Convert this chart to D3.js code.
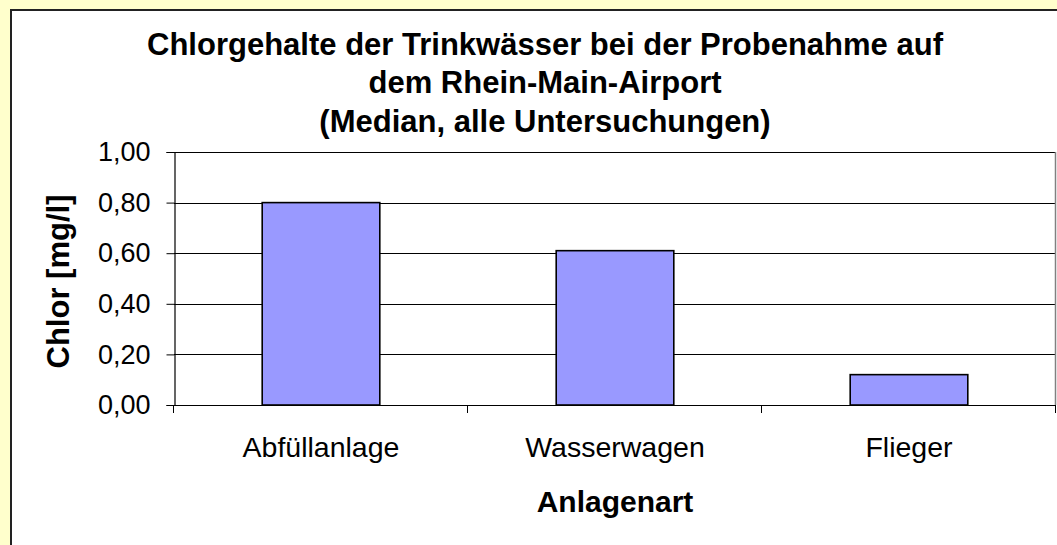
<!DOCTYPE html>
<html><head><meta charset="utf-8">
<script src="https://cdn.jsdelivr.net/npm/d3@7"></script>
<style>html,body{margin:0;padding:0;background:#FFFFCC;}svg{display:block;}</style>
</head><body>
<script>
const categories = ["Abfüllanlage", "Wasserwagen", "Flieger"];
const values = [0.80, 0.61, 0.12];
const yTicks = [0, 0.2, 0.4, 0.6, 0.8, 1.0];
const titleLines = ["Chlorgehalte der Trinkwässer bei der Probenahme auf", "dem Rhein-Main-Airport", "(Median, alle Untersuchungen)"];
const xTitle = "Anlagenart";
const yTitle = "Chlor [mg/l]";

const W = 1057, H = 545;
const L = 174, R = 1056, T = 152, B = 405;
const svg = d3.select("body").append("svg").attr("width", W).attr("height", H);
svg.append("rect").attr("width", W).attr("height", H).attr("fill", "#FFFFCC");
svg.append("rect").attr("x", 11).attr("y", 10).attr("width", W).attr("height", H)
  .attr("fill", "#fff").attr("stroke", "#222").attr("stroke-width", 2);

const font = "'Liberation Sans', Arial, sans-serif";
const y = d3.scaleLinear().domain([0, 1]).range([B, T]);
const x = d3.scaleBand().domain(categories).range([L, R]).paddingInner(0.6).paddingOuter(0.3);

// gridlines
svg.append("g").selectAll("line").data(yTicks.filter(d => d > 0)).join("line")
  .attr("x1", L).attr("x2", R)
  .attr("y1", d => Math.round(y(d)) + 0.5).attr("y2", d => Math.round(y(d)) + 0.5)
  .attr("stroke", "#000").attr("stroke-width", 1);
// plot border right
svg.append("line").attr("x1", R - 0.5).attr("x2", R - 0.5).attr("y1", T).attr("y2", B)
  .attr("stroke", "#808080").attr("stroke-width", 1.5);

// bars
svg.append("g").selectAll("rect").data(values).join("rect")
  .attr("x", (d, i) => x(categories[i]))
  .attr("y", d => y(d))
  .attr("width", x.bandwidth())
  .attr("height", d => B - y(d))
  .attr("fill", "#9999FF").attr("stroke", "#000").attr("stroke-width", 1.6);

// y axis
const yAxis = d3.axisLeft(y).tickValues(yTicks).tickSize(8).tickPadding(16)
  .tickFormat(d => d3.format(".2f")(d).replace(".", ","));
const gy = svg.append("g").attr("transform", `translate(${L + 0.5},0)`).call(yAxis);
gy.select(".domain").attr("stroke", "#000").attr("stroke-width", 1.2);
gy.selectAll(".tick line").attr("stroke", "#000");
gy.selectAll("text").attr("font-family", font).attr("font-size", 27).attr("fill", "#000");

// x axis
const step = x.step();
const bounds = categories.map(c => x(c) + x.bandwidth() / 2 - step / 2).concat([R]);
svg.append("line").attr("x1", L).attr("x2", R).attr("y1", B + 0.5).attr("y2", B + 0.5)
  .attr("stroke", "#000").attr("stroke-width", 1.2);
svg.append("g").selectAll("line").data(bounds).join("line")
  .attr("x1", d => Math.round(d) - 0.5).attr("x2", d => Math.round(d) - 0.5)
  .attr("y1", B).attr("y2", B + 8).attr("stroke", "#000").attr("stroke-width", 1);
svg.append("g").selectAll("text").data(categories).join("text")
  .attr("x", d => x(d) + x.bandwidth() / 2).attr("y", 456.5)
  .attr("text-anchor", "middle").attr("font-family", font).attr("font-size", 28.5)
  .text(d => d);

// titles
svg.append("g").selectAll("text").data(titleLines).join("text")
  .attr("x", 545).attr("y", (d, i) => [55, 92.5, 131.5][i])
  .attr("text-anchor", "middle").attr("font-family", font).attr("font-weight", "bold")
  .attr("font-size", 31).text(d => d);
svg.append("text").attr("x", (L + R) / 2).attr("y", 511.5).attr("text-anchor", "middle")
  .attr("font-family", font).attr("font-weight", "bold").attr("font-size", 30).text(xTitle);
svg.append("text").attr("transform", `translate(69,${(T + B) / 2 + 3}) rotate(-90)`)
  .attr("text-anchor", "middle").attr("font-family", font).attr("font-weight", "bold")
  .attr("font-size", 31).text(yTitle);
</script>
</body></html>
